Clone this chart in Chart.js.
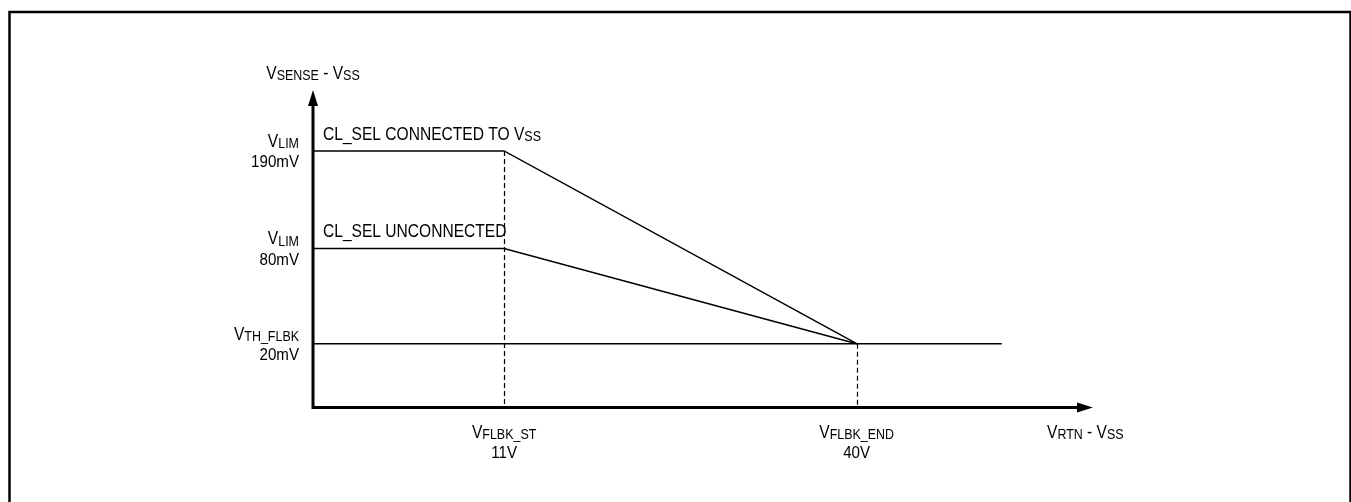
<!DOCTYPE html>
<html lang="en">
<head>
<meta charset="UTF-8">
<title>Current limit foldback</title>
<style>
    html, body { margin: 0; padding: 0; background: #fff; }
    #wrap { width: 1351px; height: 502px; position: relative; }
</style>
</head>
<body>
<div id="wrap"><canvas id="foldbackChart"></canvas></div>
<script src="https://cdn.jsdelivr.net/npm/chart.js"></script>
<script>
// values (x in V, y in mV)
const connectedX = [0, 11, 40];
const connectedY = [190, 190, 20];
const unconnectedX = [0, 11, 40];
const unconnectedY = [80, 80, 20];
const thresholdX = [0, 50];
const thresholdY = [20, 20];

const xTickValues = [11, 40];
const xTickNames = ['FLBK_ST', 'FLBK_END'];
const xTickLabels = ['11V', '40V'];
const yTickValues = [190, 80, 20];
const yTickNames = ['LIM', 'LIM', 'TH_FLBK'];
const yTickLabels = ['190mV', '80mV', '20mV'];

const FONT = '"Liberation Sans", Arial, sans-serif';
const SQUEEZE = 0.89; // the original uses a slightly narrow face

// the drawing is not to scale, so the axes are piecewise linear
const toDecimal = (breaks, v) => {
    for (let i = 1; i < breaks.length; i++) {
        const [v0, f0] = breaks[i - 1], [v1, f1] = breaks[i];
        if (v <= v1 || i === breaks.length - 1) return f0 + (v - v0) / (v1 - v0) * (f1 - f0);
    }
    return 0;
};
const fromDecimal = (breaks, d) => {
    for (let i = 1; i < breaks.length; i++) {
        const [v0, f0] = breaks[i - 1], [v1, f1] = breaks[i];
        if (d <= f1 || i === breaks.length - 1) return v0 + (d - f0) / (f1 - f0) * (v1 - v0);
    }
    return 0;
};

class BreakScale extends Chart.LinearScale {
    getPixelForValue(value) {
        return this.getPixelForDecimal(toDecimal(this.options.breaks, value));
    }
    getValueForPixel(pixel) {
        return fromDecimal(this.options.breaks, this.getDecimalForPixel(pixel));
    }
}
BreakScale.id = 'breaks';
BreakScale.defaults = {};
Chart.register(BreakScale);

const toPoints = (xs, ys) => xs.map((x, i) => ({ x: x, y: ys[i] }));

// text with a big V and smaller subscript parts
function drawRich(ctx, parts, x, y, align) {
    const widths = parts.map(p => {
        ctx.font = p[1] + 'px ' + FONT;
        return ctx.measureText(p[0]).width * SQUEEZE;
    });
    const total = widths.reduce((a, b) => a + b, 0);
    let cx = align === 'center' ? x - total / 2 : align === 'right' ? x - total : x;
    parts.forEach((p, i) => {
        ctx.save();
        ctx.translate(cx, y + (p[2] || 0));
        ctx.scale(SQUEEZE, 1);
        ctx.font = p[1] + 'px ' + FONT;
        ctx.textAlign = 'left';
        ctx.textBaseline = 'alphabetic';
        ctx.fillStyle = '#000';
        ctx.fillText(p[0], 0, 0);
        ctx.restore();
        cx += widths[i];
    });
}

const diagramPlugin = {
    id: 'diagram',
    beforeDatasetsDraw(chart) {
        const ctx = chart.ctx;
        const xs = chart.scales.x, ys = chart.scales.y;
        ctx.save();
        // dashed guides down from the break points
        ctx.strokeStyle = '#000';
        ctx.lineWidth = 1.2;
        ctx.setLineDash([5, 3]);
        xTickValues.forEach(v => {
            const tops = [];
            chart.data.datasets.forEach(ds => ds.data.forEach(p => { if (p.x === v) tops.push(p.y); }));
            const px = Math.round(xs.getPixelForValue(v)) + 0.5;
            ctx.beginPath();
            ctx.moveTo(px, ys.getPixelForValue(Math.max(...tops)));
            ctx.lineTo(px, ys.getPixelForValue(0));
            ctx.stroke();
        });
        ctx.restore();
    },
    afterDraw(chart) {
        const ctx = chart.ctx;
        const xs = chart.scales.x, ys = chart.scales.y;
        const x0 = xs.getPixelForValue(0), y0 = ys.getPixelForValue(0);
        const xEnd = chart.chartArea.right, yEnd = chart.chartArea.top;
        ctx.save();

        // frame round the figure
        ctx.strokeStyle = '#000';
        ctx.lineWidth = 2.5;
        ctx.strokeRect(9.5, 12, 1341, 520);

        // axes with arrow heads
        ctx.lineWidth = 3;
        ctx.beginPath();
        ctx.moveTo(x0, y0 + 1.5);
        ctx.lineTo(x0, yEnd + 14);
        ctx.moveTo(x0 - 1.5, y0);
        ctx.lineTo(xEnd - 14, y0);
        ctx.stroke();
        ctx.fillStyle = '#000';
        ctx.beginPath();
        ctx.moveTo(x0, yEnd);
        ctx.lineTo(x0 - 5, yEnd + 16);
        ctx.lineTo(x0 + 5, yEnd + 16);
        ctx.closePath();
        ctx.fill();
        ctx.beginPath();
        ctx.moveTo(xEnd, y0);
        ctx.lineTo(xEnd - 16, y0 - 5);
        ctx.lineTo(xEnd - 16, y0 + 5);
        ctx.closePath();
        ctx.fill();

        // axis titles
        drawRich(ctx, [['V', 17.5], ['SENSE', 14, 1], [' - V', 17.5], ['SS', 14, 1]], x0, yEnd - 11, 'center');
        drawRich(ctx, [['V', 17.5], ['RTN', 14, 1], [' - V', 17.5], ['SS', 14, 1]], xEnd - 46, y0 + 30, 'left');

        // y ticks
        yTickValues.forEach((v, i) => {
            const py = ys.getPixelForValue(v);
            drawRich(ctx, [['V', 17.5], [yTickNames[i], 14, 1.5]], x0 - 14, py - 4, 'right');
            drawRich(ctx, [[yTickLabels[i], 17]], x0 - 14, py + 16.5, 'right');
        });
        // x ticks
        xTickValues.forEach((v, i) => {
            const px = xs.getPixelForValue(v);
            drawRich(ctx, [['V', 17.5], [xTickNames[i], 14, 1.5]], px, y0 + 30, 'center');
            drawRich(ctx, [[xTickLabels[i], 17]], px, y0 + 50, 'center');
        });

        // series captions above the flat parts
        chart.data.datasets.forEach(ds => {
            if (!ds.caption) return;
            const py = ys.getPixelForValue(ds.data[0].y);
            drawRich(ctx, ds.caption, x0 + 10, py - 11, 'left');
        });
        ctx.restore();
    }
};

const lineStyle = {
    borderColor: '#000',
    borderWidth: 1.5,
    pointRadius: 0,
    fill: false,
    tension: 0
};

new Chart(document.getElementById('foldbackChart'), {
    type: 'line',
    data: {
        datasets: [
            Object.assign({ label: 'CL_SEL CONNECTED TO VSS', data: toPoints(connectedX, connectedY),
                caption: [['CL_SEL CONNECTED TO V', 17.5], ['SS', 14, 1]] }, lineStyle),
            Object.assign({ label: 'CL_SEL UNCONNECTED', data: toPoints(unconnectedX, unconnectedY),
                caption: [['CL_SEL UNCONNECTED', 17.5]] }, lineStyle),
            Object.assign({ label: 'VTH_FLBK', data: toPoints(thresholdX, thresholdY) }, lineStyle)
        ]
    },
    options: {
        responsive: true,
        maintainAspectRatio: false,
        animation: false,
        layout: {
            autoPadding: false,
            padding: { left: 313, right: 258, top: 90, bottom: 94.5 }
        },
        plugins: {
            legend: { display: false },
            tooltip: { enabled: false }
        },
        scales: {
            x: {
                type: 'breaks', display: false, min: 0, max: 56,
                breaks: [[0, 0], [11, 0.245], [40, 0.697], [50, 0.883], [56, 1]]
            },
            y: {
                type: 'breaks', display: false, min: 0, max: 250,
                breaks: [[0, 0], [20, 0.201], [80, 0.501], [190, 0.808], [250, 1]]
            }
        }
    },
    plugins: [diagramPlugin]
});
</script>
</body>
</html>
